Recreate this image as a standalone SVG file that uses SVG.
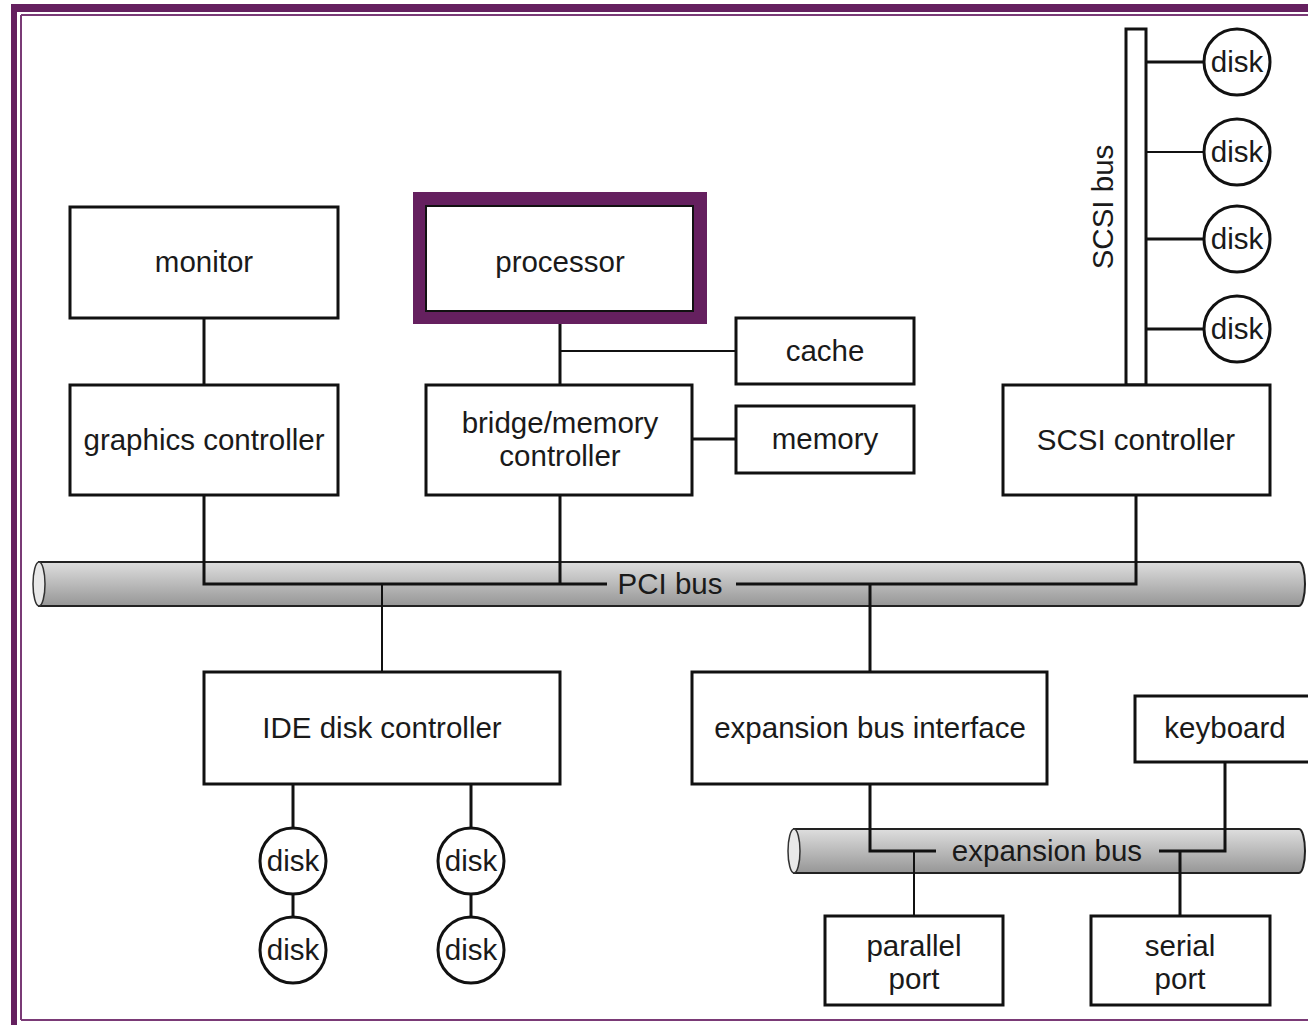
<svg xmlns="http://www.w3.org/2000/svg" width="1308" height="1025" viewBox="0 0 1308 1025">
<defs>
<linearGradient id="busg" x1="0" y1="0" x2="0" y2="1">
<stop offset="0" stop-color="#dedede"/>
<stop offset="1" stop-color="#969696"/>
</linearGradient>
<style>
.box{fill:#fff;stroke:#111;stroke-width:3}
.disk{fill:#fff;stroke:#111;stroke-width:3}
.t{font-family:"Liberation Sans",Arial,sans-serif;font-size:29.5px;fill:#1a1a1a;text-anchor:middle}
.c{fill:none;stroke:#111;stroke-width:3}
.cn{fill:none;stroke:#111;stroke-width:2}
.bus{fill:url(#busg);stroke:#222;stroke-width:2}
.cap{fill:#e8e8e8;stroke:#333;stroke-width:1.5}
</style>
</defs>
<rect width="1308" height="1025" fill="#fff"/>
<g id="frame">
<rect x="11" y="4" width="1297" height="8" fill="#65205f"/>
<rect x="11" y="4" width="6" height="1021" fill="#65205f"/>
<line x1="21" y1="15" x2="1308" y2="15" stroke="#7a3a76" stroke-width="2"/>
<line x1="21" y1="15" x2="21" y2="1020" stroke="#7a3a76" stroke-width="2"/>
<line x1="21" y1="1020" x2="1308" y2="1020" stroke="#7a3a76" stroke-width="2"/>
</g>
<g id="pci-bus">
<path class="bus" d="M39,562 H1299 A6,22 0 0 1 1299,606 H39 Z"/>
<ellipse class="cap" cx="39" cy="584" rx="6" ry="22"/>
</g>
<g id="expansion-bus-pipe">
<path class="bus" d="M794,829 H1299 A6,22 0 0 1 1299,873 H794 Z"/>
<ellipse class="cap" cx="794" cy="851" rx="6" ry="22"/>
</g>
<g id="connectors">
<line class="c" x1="204" y1="318" x2="204" y2="385"/>
<line class="c" x1="560" y1="324" x2="560" y2="385"/>
<line class="cn" x1="560" y1="351" x2="736" y2="351"/>
<line class="c" x1="692" y1="439" x2="736" y2="439"/>
<polyline class="c" points="204,495 204,584 607,584"/>
<line class="c" x1="560" y1="495" x2="560" y2="584"/>
<polyline class="c" points="736,584 1136,584 1136,495"/>
<line class="cn" x1="382" y1="584" x2="382" y2="672"/>
<line class="c" x1="870" y1="584" x2="870" y2="672"/>
<line class="c" x1="293" y1="784" x2="293" y2="828"/>
<line class="c" x1="293" y1="894" x2="293" y2="917"/>
<line class="c" x1="471" y1="784" x2="471" y2="828"/>
<line class="c" x1="471" y1="894" x2="471" y2="917"/>
<polyline class="c" points="870,784 870,851 936,851"/>
<line class="cn" x1="914" y1="851" x2="914" y2="916"/>
<polyline class="c" points="1159,851 1225,851 1225,762"/>
<line class="c" x1="1180" y1="851" x2="1180" y2="916"/>
<line class="c" x1="1146" y1="62" x2="1204" y2="62"/>
<line class="cn" x1="1146" y1="152" x2="1204" y2="152"/>
<line class="c" x1="1146" y1="239" x2="1204" y2="239"/>
<line class="c" x1="1146" y1="329" x2="1204" y2="329"/>
</g>
<g id="pci-label"><text class="t" x="670" y="594">PCI bus</text></g>
<g id="expansion-bus-label"><text class="t" x="1047" y="861">expansion bus</text></g>
<g id="monitor"><rect class="box" x="70" y="207" width="268" height="111"/><text class="t" x="204" y="272">monitor</text></g>
<g id="graphics-controller"><rect class="box" x="70" y="385" width="268" height="110"/><text class="t" x="204" y="450">graphics controller</text></g>
<g id="processor">
<rect x="413" y="192" width="294" height="132" fill="#65205f"/>
<rect x="426" y="206" width="267" height="105" fill="#fff" stroke="#111" stroke-width="2"/>
<text class="t" x="560" y="272">processor</text>
</g>
<g id="cache"><rect class="box" x="736" y="318" width="178" height="66"/><text class="t" x="825" y="361">cache</text></g>
<g id="bridge"><rect class="box" x="426" y="385" width="266" height="110"/><text class="t" x="560" y="433">bridge/memory</text><text class="t" x="560" y="466">controller</text></g>
<g id="memory"><rect class="box" x="736" y="406" width="178" height="67"/><text class="t" x="825" y="449">memory</text></g>
<g id="scsi-bus"><rect x="1126" y="29" width="20" height="356" fill="#fff" stroke="#111" stroke-width="3"/><text class="t" transform="translate(1113,207) rotate(-90)">SCSI bus</text></g>
<g id="scsi-controller"><rect class="box" x="1003" y="385" width="267" height="110"/><text class="t" x="1136" y="450">SCSI controller</text></g>
<g id="scsi-disk1"><circle class="disk" cx="1237" cy="62" r="33"/><text class="t" x="1237" y="72">disk</text></g>
<g id="scsi-disk2"><circle class="disk" cx="1237" cy="152" r="33"/><text class="t" x="1237" y="162">disk</text></g>
<g id="scsi-disk3"><circle class="disk" cx="1237" cy="239" r="33"/><text class="t" x="1237" y="249">disk</text></g>
<g id="scsi-disk4"><circle class="disk" cx="1237" cy="329" r="33"/><text class="t" x="1237" y="339">disk</text></g>
<g id="ide-controller"><rect class="box" x="204" y="672" width="356" height="112"/><text class="t" x="382" y="738">IDE disk controller</text></g>
<g id="expansion-interface"><rect class="box" x="692" y="672" width="355" height="112"/><text class="t" x="870" y="738">expansion bus interface</text></g>
<g id="keyboard"><rect class="box" x="1135" y="696" width="180" height="66"/><text class="t" x="1225" y="738">keyboard</text></g>
<g id="ide-disk1"><circle class="disk" cx="293" cy="861" r="33"/><text class="t" x="293" y="871">disk</text></g>
<g id="ide-disk2"><circle class="disk" cx="293" cy="950" r="33"/><text class="t" x="293" y="960">disk</text></g>
<g id="ide-disk3"><circle class="disk" cx="471" cy="861" r="33"/><text class="t" x="471" y="871">disk</text></g>
<g id="ide-disk4"><circle class="disk" cx="471" cy="950" r="33"/><text class="t" x="471" y="960">disk</text></g>
<g id="parallel-port"><rect class="box" x="825" y="916" width="178" height="89"/><text class="t" x="914" y="956">parallel</text><text class="t" x="914" y="989">port</text></g>
<g id="serial-port"><rect class="box" x="1091" y="916" width="179" height="89"/><text class="t" x="1180" y="956">serial</text><text class="t" x="1180" y="989">port</text></g>
</svg>
